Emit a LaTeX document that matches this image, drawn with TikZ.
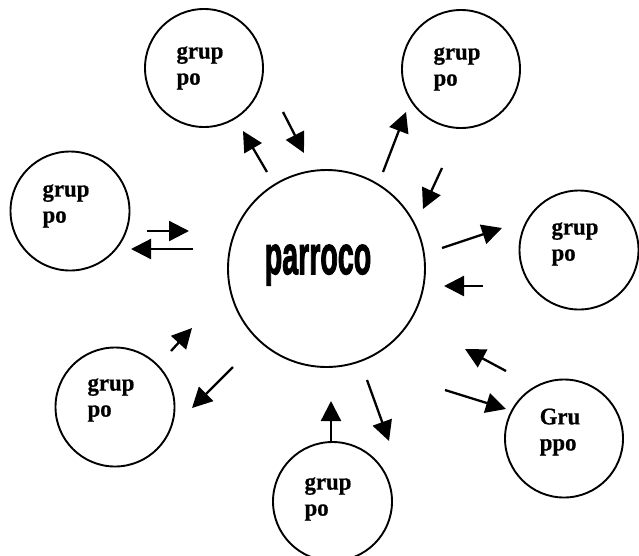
\documentclass[tikz,border=0pt]{standalone}
\usepackage{fontspec}
\setmainfont{Liberation Serif}[BoldFeatures={FakeBold=0.6}]
\newfontfamily\parrocofont{Liberation Sans}[BoldFeatures={FakeBold=2.5}]
\usetikzlibrary{arrows.meta}
\begin{document}
\begin{tikzpicture}[x=1pt,y=-1pt,
  grp/.style={circle,draw,line width=1.9pt,minimum size=#1,inner sep=0pt},
  lbl/.style={font=\fontsize{24}{26}\selectfont\bfseries,align=left,inner sep=0pt,xscale=0.95},
  arr/.style={line width=2.3pt,-{Triangle[length=20pt,width=20pt]}}]
\useasboundingbox (0,0) rectangle (639,555);
\clip (0,0) rectangle (639,555);
\fill[white] (0,0) rectangle (639,555);

% circles
\node[grp=197pt] (c) at (326.5,268.5) {};
\node[grp=118pt] (g1) at (204,68) {};
\node[grp=118pt] (g2) at (461,69) {};
\node[grp=119pt] (g3) at (70,211) {};
\node[grp=119pt] (g4) at (579,250) {};
\node[grp=119pt] (g5) at (115,407) {};
\node[grp=119pt] (g6) at (332.5,501.5) {};
\node[grp=118pt] (g7) at (564,438.5) {};

% labels
\node[inner sep=0pt] (tc) at (318,265) {\scalebox{0.55}[1.05]{\parrocofont\fontsize{52}{52}\selectfont\bfseries parroco}};
\node[lbl] (t1) at (200,68) {grup\\po};
\node[lbl] (t2) at (457,69) {grup\\po};
\node[lbl] (t3) at (66,206) {grup\\po};
\node[lbl] (t4) at (575,244) {grup\\po};
\node[lbl] (t5) at (111,400) {grup\\po};
\node[lbl] (t6) at (328,499) {grup\\po};
\node[lbl] (t7) at (560,432) {Gru\\ppo};

% arrow endpoints
\coordinate (a1s) at (267,172); \coordinate (a1e) at (243,131);
\coordinate (a2s) at (283,112); \coordinate (a2e) at (304,153);
\coordinate (a3s) at (383,172); \coordinate (a3e) at (406,112);
\coordinate (a4s) at (442,168); \coordinate (a4e) at (423,209);
\coordinate (a5s) at (442,248); \coordinate (a5e) at (502,228);
\coordinate (a6s) at (483,286); \coordinate (a6e) at (444,286);
\coordinate (a7s) at (147,231); \coordinate (a7e) at (189,231);
\coordinate (a8s) at (193,249); \coordinate (a8e) at (131,249);
\coordinate (a9s) at (171,351); \coordinate (a9e) at (192,328);
\coordinate (a10s) at (233,367); \coordinate (a10e) at (192,408);
\coordinate (a11s) at (331,442); \coordinate (a11e) at (331,401);
\coordinate (a12s) at (367,380); \coordinate (a12e) at (389,441);
\coordinate (a13s) at (506,371); \coordinate (a13e) at (465,349);
\coordinate (a14s) at (445,390); \coordinate (a14e) at (506,409);

\foreach \i in {1,...,14} {\draw[arr] (a\i s) -- (a\i e);}
\end{tikzpicture}
\end{document}
